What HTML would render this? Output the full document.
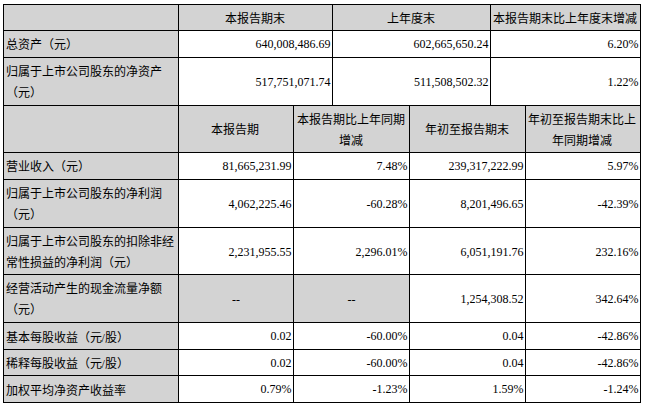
<!DOCTYPE html>
<html lang="zh-CN"><head><meta charset="utf-8"><style>
html,body{margin:0;padding:0;background:#fff;}
body{width:645px;height:406px;position:relative;overflow:hidden;font-family:"Liberation Serif",serif;font-size:12px;color:#000;}
.c{position:absolute;display:flex;align-items:center;box-sizing:border-box;line-height:21px;white-space:nowrap;}
.h{justify-content:center;text-align:center;background:#d3d3d3;}
.g{justify-content:center;text-align:center;background:#d3d3d3;}
.l{justify-content:flex-start;padding-left:3px;background:#d3d3d3;}
.v{justify-content:flex-end;padding-right:1.5px;background:#fff;}
.c span{position:relative;}
.h span{top:1.5px;left:-1px;}
.l span{top:1.5px;left:-1.5px;}
.v span,.g span{display:inline-block;transform:scaleY(1.1);transform-origin:50% 60%;}
.v.t span{top:1px;}
.g span{top:1px;}
.v.lo span{top:0.8px;}
.l.lo span{top:2px;}
.hl{position:absolute;height:1px;background:#000;}
.vl{position:absolute;width:1px;background:#000;}
</style></head><body>

<div class="c h" style="left:4px;top:5px;width:174px;height:25px"><span></span></div>
<div class="c h" style="left:179px;top:5px;width:153px;height:25px"><span>本报告期末</span></div>
<div class="c h" style="left:333px;top:5px;width:157px;height:25px"><span>上年度末</span></div>
<div class="c h" style="left:491px;top:5px;width:149px;height:25px"><span>本报告期末比上年度末增减</span></div>
<div class="c l" style="left:4px;top:31px;width:174px;height:26px"><span>总资产（元）</span></div>
<div class="c v" style="left:179px;top:31px;width:153px;height:26px"><span>640,008,486.69</span></div>
<div class="c v" style="left:333px;top:31px;width:157px;height:26px"><span>602,665,650.24</span></div>
<div class="c v" style="left:491px;top:31px;width:149px;height:26px"><span>6.20%</span></div>
<div class="c l t" style="left:4px;top:58px;width:174px;height:47px"><span>归属于上市公司股东的净资产<br>（元）</span></div>
<div class="c v t" style="left:179px;top:58px;width:153px;height:47px"><span>517,751,071.74</span></div>
<div class="c v t" style="left:333px;top:58px;width:157px;height:47px"><span>511,508,502.32</span></div>
<div class="c v t" style="left:491px;top:58px;width:149px;height:47px"><span>1.22%</span></div>
<div class="c h t" style="left:4px;top:106px;width:174px;height:46px"><span></span></div>
<div class="c h t" style="left:179px;top:106px;width:114px;height:46px"><span>本报告期</span></div>
<div class="c h t" style="left:294px;top:106px;width:115px;height:46px"><span>本报告期比上年同期<br>增减</span></div>
<div class="c h t" style="left:410px;top:106px;width:115px;height:46px"><span>年初至报告期末</span></div>
<div class="c h t" style="left:526px;top:106px;width:114px;height:46px"><span>年初至报告期末比上<br>年同期增减</span></div>
<div class="c l" style="left:4px;top:153px;width:174px;height:26px"><span>营业收入（元）</span></div>
<div class="c v" style="left:179px;top:153px;width:114px;height:26px"><span>81,665,231.99</span></div>
<div class="c v" style="left:294px;top:153px;width:115px;height:26px"><span>7.48%</span></div>
<div class="c v" style="left:410px;top:153px;width:115px;height:26px"><span>239,317,222.99</span></div>
<div class="c v" style="left:526px;top:153px;width:114px;height:26px"><span>5.97%</span></div>
<div class="c l t" style="left:4px;top:180px;width:174px;height:47px"><span>归属于上市公司股东的净利润<br>（元）</span></div>
<div class="c v t" style="left:179px;top:180px;width:114px;height:47px"><span>4,062,225.46</span></div>
<div class="c v t" style="left:294px;top:180px;width:115px;height:47px"><span>-60.28%</span></div>
<div class="c v t" style="left:410px;top:180px;width:115px;height:47px"><span>8,201,496.65</span></div>
<div class="c v t" style="left:526px;top:180px;width:114px;height:47px"><span>-42.39%</span></div>
<div class="c l t" style="left:4px;top:228px;width:174px;height:46px"><span>归属于上市公司股东的扣除非经<br>常性损益的净利润（元）</span></div>
<div class="c v t" style="left:179px;top:228px;width:114px;height:46px"><span>2,231,955.55</span></div>
<div class="c v t" style="left:294px;top:228px;width:115px;height:46px"><span>2,296.01%</span></div>
<div class="c v t" style="left:410px;top:228px;width:115px;height:46px"><span>6,051,191.76</span></div>
<div class="c v t" style="left:526px;top:228px;width:114px;height:46px"><span>232.16%</span></div>
<div class="c l t" style="left:4px;top:275px;width:174px;height:47px"><span>经营活动产生的现金流量净额<br>（元）</span></div>
<div class="c g t" style="left:179px;top:275px;width:114px;height:47px"><span>--</span></div>
<div class="c g t" style="left:294px;top:275px;width:115px;height:47px"><span>--</span></div>
<div class="c v t" style="left:410px;top:275px;width:115px;height:47px"><span>1,254,308.52</span></div>
<div class="c v t" style="left:526px;top:275px;width:114px;height:47px"><span>342.64%</span></div>
<div class="c l lo" style="left:4px;top:323px;width:174px;height:26px"><span>基本每股收益（元/股）</span></div>
<div class="c v lo" style="left:179px;top:323px;width:114px;height:26px"><span>0.02</span></div>
<div class="c v lo" style="left:294px;top:323px;width:115px;height:26px"><span>-60.00%</span></div>
<div class="c v lo" style="left:410px;top:323px;width:115px;height:26px"><span>0.04</span></div>
<div class="c v lo" style="left:526px;top:323px;width:114px;height:26px"><span>-42.86%</span></div>
<div class="c l lo" style="left:4px;top:350px;width:174px;height:25px"><span>稀释每股收益（元/股）</span></div>
<div class="c v lo" style="left:179px;top:350px;width:114px;height:25px"><span>0.02</span></div>
<div class="c v lo" style="left:294px;top:350px;width:115px;height:25px"><span>-60.00%</span></div>
<div class="c v lo" style="left:410px;top:350px;width:115px;height:25px"><span>0.04</span></div>
<div class="c v lo" style="left:526px;top:350px;width:114px;height:25px"><span>-42.86%</span></div>
<div class="c l lo" style="left:4px;top:376px;width:174px;height:26px"><span>加权平均净资产收益率</span></div>
<div class="c v lo" style="left:179px;top:376px;width:114px;height:26px"><span>0.79%</span></div>
<div class="c v lo" style="left:294px;top:376px;width:115px;height:26px"><span>-1.23%</span></div>
<div class="c v lo" style="left:410px;top:376px;width:115px;height:26px"><span>1.59%</span></div>
<div class="c v lo" style="left:526px;top:376px;width:114px;height:26px"><span>-1.24%</span></div>
<div class="hl" style="left:3px;top:4px;width:638px"></div>
<div class="hl" style="left:3px;top:30px;width:638px"></div>
<div class="hl" style="left:3px;top:57px;width:638px"></div>
<div class="hl" style="left:3px;top:105px;width:638px"></div>
<div class="hl" style="left:3px;top:152px;width:638px"></div>
<div class="hl" style="left:3px;top:179px;width:638px"></div>
<div class="hl" style="left:3px;top:227px;width:638px"></div>
<div class="hl" style="left:3px;top:274px;width:638px"></div>
<div class="hl" style="left:3px;top:322px;width:638px"></div>
<div class="hl" style="left:3px;top:349px;width:638px"></div>
<div class="hl" style="left:3px;top:375px;width:638px"></div>
<div class="hl" style="left:3px;top:402px;width:638px"></div>
<div class="vl" style="left:3px;top:4px;height:102px"></div>
<div class="vl" style="left:178px;top:4px;height:102px"></div>
<div class="vl" style="left:332px;top:4px;height:102px"></div>
<div class="vl" style="left:490px;top:4px;height:102px"></div>
<div class="vl" style="left:640px;top:4px;height:102px"></div>
<div class="vl" style="left:3px;top:105px;height:298px"></div>
<div class="vl" style="left:178px;top:105px;height:298px"></div>
<div class="vl" style="left:293px;top:105px;height:298px"></div>
<div class="vl" style="left:409px;top:105px;height:298px"></div>
<div class="vl" style="left:525px;top:105px;height:298px"></div>
<div class="vl" style="left:640px;top:105px;height:298px"></div>
</body></html>
